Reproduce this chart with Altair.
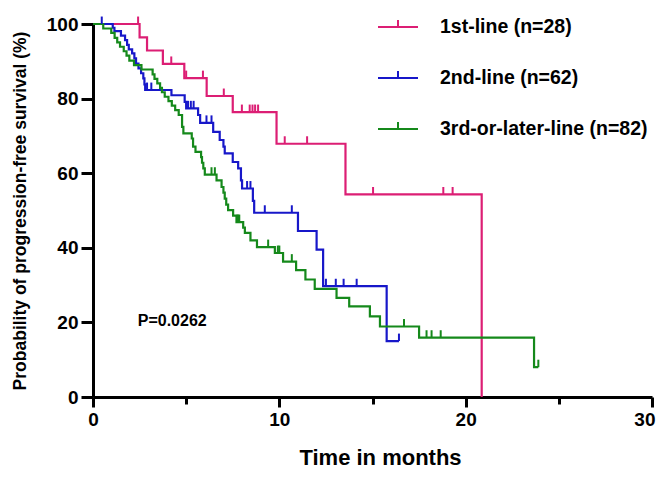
import altair as alt
import pandas as pd

groups = ["1st-line (n=28)", "2nd-line (n=62)", "3rd-or-later-line (n=82)"]
colors = ["#DC1E74", "#1717C9", "#15891B"]

# 1st-line: step times and survival after each step (%)
first_t = [0, 2.5, 2.9, 3.75, 4.9, 6.1, 7.5, 9.85, 13.55, 20.86]
first_s = [100, 96.4, 92.9, 89.3, 85.5, 80.7, 76.4, 67.9, 54.3, 0]
first_cens = [2.42, 4.2, 5.0, 5.9, 7.02, 7.99, 8.41, 8.56, 8.70, 8.86,
              10.29, 11.49, 15.03, 18.8, 19.3]

# 2nd-line
second_t = [0, 1.06, 1.15, 1.5, 1.72, 1.83, 1.92, 2.1, 2.22, 2.31, 2.44, 2.58,
            2.7, 2.76, 2.8, 4.21, 4.92, 5.0, 5.64, 5.75, 6.45, 6.8, 7.0, 7.07,
            7.5, 7.79, 7.94, 8.0, 8.58, 8.65, 11.0, 12.0, 12.35, 15.76, 16.42]
second_s = [100, 99.0, 98.1, 96.9, 95.7, 94.4, 93.2, 92.1, 90.8, 89.4, 88.1, 86.8,
            85.4, 83.8, 82.3, 80.9, 79.1, 77.4, 75.6, 73.5, 71.1, 68.9, 67.1, 65.3,
            63.0, 61.3, 58.1, 55.9, 52.6, 49.4, 44.5, 39.5, 29.7, 15.0, 15.0]
second_cens = [0.47, 2.9, 3.13, 5.1, 5.25, 5.4, 6.09, 6.36, 8.27, 8.45, 9.22,
               10.67, 12.5, 13.03, 13.45, 14.15, 16.42]

# 3rd-or-later-line
third_t = [0, 0.55, 0.98, 1.16, 1.3, 1.45, 1.65, 1.8, 1.95, 2.2, 2.6, 3.2, 3.3,
           3.45, 3.6, 3.7, 3.85, 4.05, 4.23, 4.41, 4.6, 4.78, 4.85, 5.3, 5.37,
           5.5, 5.8, 5.85, 5.92, 6.0, 6.63, 6.9, 7.0, 7.07, 7.15, 7.25, 7.52,
           7.7, 8.06, 8.15, 8.45, 8.8, 9.76, 10.2, 10.9, 11.4, 11.9, 13.07,
           13.75, 14.86, 15.4, 17.5, 23.67, 23.9]
third_s = [100, 98.8, 97.6, 96.3, 95.1, 93.9, 92.7, 91.5, 90.2, 89.0, 87.8, 86.5,
           85.3, 84.1, 82.9, 81.7, 80.5, 79.3, 78.1, 76.9, 75.6, 72.4, 70.7, 69.3,
           67.1, 65.7, 64.3, 62.8, 61.3, 59.6, 58.1, 56.3, 54.8, 53.2, 51.6, 50.1,
           48.6, 46.9, 45.4, 44.0, 42.0, 40.2, 38.6, 36.3, 34.0, 31.5, 29.0, 26.6,
           24.3, 21.6, 18.9, 15.9, 8.0, 8.0]
third_cens = [6.36, 6.54, 7.75, 7.8, 7.85, 9.4, 9.92, 10.0, 10.67, 16.69, 17.9,
              18.17, 18.66, 23.9]

x_ticks = [0, 5, 10, 15, 20, 25, 30]
y_ticks = [0, 20, 40, 60, 80, 100]

p_text = "P=0.0262"
p_pos = (2.4, 20.5)


def step_value(ts, ss, t):
    v = ss[0]
    for ti, si in zip(ts, ss):
        if ti <= t:
            v = si
    return v


curves = [(first_t, first_s, first_cens), (second_t, second_s, second_cens),
          (third_t, third_s, third_cens)]
line_rows, cens_rows = [], []
for g, (ts, ss, cs) in zip(groups, curves):
    for i, (t, s) in enumerate(zip(ts, ss)):
        line_rows.append({"group": g, "t": t, "s": s, "order": i})
    for c in cs:
        cens_rows.append({"group": g, "t": c, "s": step_value(ts, ss, c)})
lines_df = pd.DataFrame(line_rows)
cens_df = pd.DataFrame(cens_rows)

FONT = "Liberation Sans"
color_scale = alt.Scale(domain=groups, range=colors)
x_scale = alt.Scale(domain=[0, 30], nice=False, zero=True)
y_scale = alt.Scale(domain=[0, 100], nice=False)

x_axis = alt.Axis(values=x_ticks, title="Time in months", grid=False,
                  labelExpr="datum.value % 10 === 0 ? datum.label : ''",
                  tickSize={"condition": {"test": "datum.value % 10 === 0", "value": 10},
                            "value": 7},
                  labelAlign={"condition": {"test": "datum.value === 30", "value": "right"},
                              "value": "center"},
                  labelOffset={"condition": {"test": "datum.value === 30", "value": 3},
                               "value": 0},
                  tickWidth=3, domainWidth=3, domainColor="black",
                  tickColor="black", labelFont=FONT, labelFontWeight="bold",
                  labelFontSize=19, labelColor="black", labelPadding=3,
                  titleFont=FONT, titleFontWeight="bold", titleFontSize=22,
                  titleColor="black", titlePadding=18, titleX=287,
                  labelFlush=False)
y_axis = alt.Axis(values=y_ticks,
                  title="Probability of progression-free survival (%)", grid=False,
                  tickSize=12, tickWidth=3, domainWidth=3, domainColor="black",
                  tickColor="black", labelFont=FONT, labelFontWeight="bold",
                  labelFontSize=19, labelColor="black", labelPadding=3,
                  titleFont=FONT, titleFontWeight="bold", titleFontSize=17.5,
                  titleColor="black", titlePadding=17)

legend = alt.Legend(title=None, orient="none", legendX=284, legendY=-18,
                    symbolType="M-1,0H1M0,0V-0.35", symbolSize=1600,
                    symbolStrokeWidth=2, labelFont=FONT, labelFontWeight="bold",
                    labelFontSize=19.5, labelColor="black", labelOffset=21,
                    rowPadding=20, labelLimit=400)

lines = alt.Chart(lines_df).mark_line(interpolate="step-after", strokeWidth=2.2).encode(
    x=alt.X("t:Q", scale=x_scale, axis=x_axis),
    y=alt.Y("s:Q", scale=y_scale, axis=y_axis),
    color=alt.Color("group:N", scale=color_scale, legend=legend, sort=groups),
    order="order:Q",
)

ticks = alt.Chart(cens_df).transform_calculate(s2="datum.s + 2").mark_rule(
    strokeWidth=2).encode(
    x=alt.X("t:Q", scale=x_scale),
    y=alt.Y("s:Q", scale=y_scale),
    y2="s2:Q",
    color=alt.Color("group:N", scale=color_scale, legend=None),
)

ptext = alt.Chart(pd.DataFrame({"t": [p_pos[0]], "s": [p_pos[1]], "label": [p_text]})).mark_text(
    align="left", baseline="middle", font=FONT, fontWeight="bold", fontSize=16,
    color="black").encode(
    x=alt.X("t:Q", scale=x_scale),
    y=alt.Y("s:Q", scale=y_scale),
    text="label:N",
)

chart = alt.layer(lines, ticks, ptext).properties(
    width=559, height=373,
    autosize=alt.AutoSizeParams(type="none"),
    padding={"left": 85, "top": 16, "right": 4, "bottom": 73},
    background="white",
).configure_view(stroke=None)

chart.save("out.html", embed_options={"renderer": "svg", "actions": False})
